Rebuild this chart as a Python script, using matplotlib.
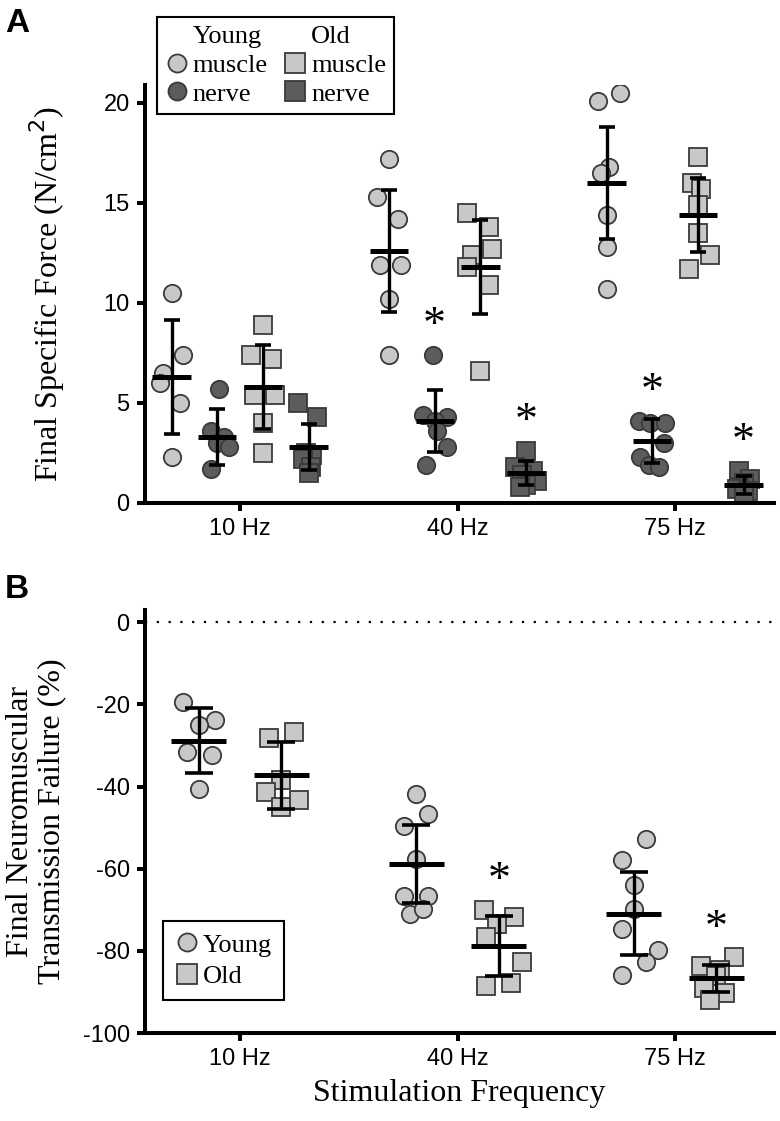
"""Specific force and neuromuscular transmission failure, young vs old."""

import matplotlib.pyplot as plt
from matplotlib.lines import Line2D

plt.rcParams['axes.unicode_minus'] = False
SERIF = ['Liberation Serif', 'DejaVu Serif']
NARROW = ['Liberation Sans Narrow', 'Liberation Sans', 'DejaVu Sans']

freqs = ['10 Hz', '40 Hz', '75 Hz']

# ---- Panel A: final specific force (N/cm2), one list per frequency
ym_vals = [[10.5, 7.4, 6.5, 6.0, 5.0, 2.3],
           [17.2, 15.3, 14.2, 11.9, 11.9, 10.2, 7.4],
           [20.1, 20.5, 16.8, 16.5, 14.4, 12.8, 10.7]]
ym_jit = [[0, .055, -.037, -.055, .037, 0],
          [0, -.055, .04, -.04, .055, 0, 0],
          [-.037, .06, .012, -.027, 0, 0, 0]]
ym_mean = [6.3, 12.6, 16.0]
ym_sd = [2.85, 3.05, 2.8]

yn_vals = [[5.7, 3.6, 3.3, 3.0, 2.8, 1.7],
           [7.4, 4.4, 4.3, 4.1, 3.6, 2.8, 1.9],
           [4.1, 4.0, 4.0, 3.0, 2.3, 1.9, 1.8]]
yn_jit = [[.01, -.03, .03, 0, .055, -.03],
          [-.01, -.055, .055, 0, .01, .055, -.04],
          [-.06, -.01, .06, .055, -.055, -.015, .03]]
yn_mean = [3.3, 4.1, 3.1]
yn_sd = [1.4, 1.55, 1.1]

om_vals = [[8.9, 7.4, 7.2, 5.4, 5.4, 4.0, 2.5],
           [14.5, 13.8, 12.7, 12.4, 11.8, 10.9, 6.6],
           [17.3, 16.0, 15.7, 14.9, 13.5, 12.4, 11.7]]
om_jit = [[0, -.055, .04, -.04, .055, 0, 0],
          [-.06, .04, .055, -.04, -.06, .04, 0],
          [0, -.025, .015, 0, 0, .055, -.04]]
om_mean = [5.8, 11.8, 14.4]
om_sd = [2.1, 2.35, 1.85]

on_vals = [[5.0, 4.3, 2.5, 2.4, 2.2, 1.8, 1.5],
           [2.6, 1.8, 1.6, 1.4, 1.1, 0.9, 0.8],
           [1.6, 1.2, 1.0, 0.8, 0.7, 0.6, 0.5]]
on_jit = [[-.05, .04, -.01, .015, -.025, .01, 0],
          [0, -.05, .03, -.02, .05, 0, -.03],
          [-.02, .03, 0, -.02, -.03, .02, 0]]
on_mean = [2.8, 1.5, 0.9]
on_sd = [1.15, 0.6, 0.45]

star_yn = [False, True, True]
star_on = [False, True, True]

# ---- Panel B: final neuromuscular transmission failure (%)
by_vals = [[-19.5, -23.7, -24.9, -31.6, -32.2, -40.7],
           [-41.9, -46.7, -49.6, -57.6, -66.6, -66.6, -70.9, -69.9],
           [-52.8, -57.8, -63.9, -69.9, -74.7, -79.8, -82.8, -85.9]]
by_jit = [[-.07, .075, 0, -.055, .06, 0],
          [0, .055, -.055, 0, -.055, .055, -.03, .03],
          [.055, -.055, 0, 0, -.055, .11, .055, -.055]]
by_mean = [-28.8, -58.8, -70.9]
by_sd = [7.9, 9.5, 10.0]

bo_vals = [[-28.1, -26.6, -38.3, -41.4, -43.3, -45.0],
           [-70.1, -71.7, -73.4, -76.5, -82.6, -88.6, -87.9],
           [-81.6, -83.8, -84.7, -86.0, -89.1, -90.3, -91.9]]
bo_jit = [[-.055, .06, 0, -.07, .08, 0],
          [-.07, .07, -.01, -.06, .105, -.06, .055],
          [.08, -.07, .015, 0, -.055, .04, -.03]]
bo_mean = [-37.2, -78.7, -86.7]
bo_sd = [8.15, 7.3, 3.3]

star_bo = [False, True, True]

LIGHT = '#c8c8c8'
DARK = '#5c5c5c'
EDGE = '#3a3a3a'


def draw_group(ax, xc, vals, jit, mean, sd, marker, face, ms, half, cap, star):
    ax.plot([xc + j for j in jit], vals, ls='none', marker=marker, ms=ms,
            mfc=face, mec=EDGE, mew=1.3, zorder=2)
    ax.errorbar(xc, mean, yerr=sd, fmt='none', ecolor='k', elinewidth=2.4,
                capsize=cap, capthick=2.6, zorder=3)
    ax.hlines(mean, xc - half, xc + half, color='k', lw=3.6, zorder=3)
    if star:
        ax.annotate('*', (xc, max(vals)), xytext=(0, 5), textcoords='offset points',
                    ha='center', va='bottom', fontsize=33, family=SERIF)


def style_axis(ax, ylim, yticks):
    for s in ('top', 'right'):
        ax.spines[s].set_visible(False)
    for s in ('left', 'bottom'):
        ax.spines[s].set_linewidth(2.9)
    ax.set_xlim(-0.437, 2.455)
    ax.set_ylim(*ylim)
    ax.set_xticks(range(3))
    ax.set_xticklabels(freqs)
    ax.set_yticks(yticks)
    ax.tick_params(length=6, width=2.9, labelsize=17, pad=5)
    for lab in ax.get_xticklabels() + ax.get_yticklabels():
        lab.set_family(NARROW)


fig = plt.figure(figsize=(7.8, 11.21), dpi=100)
axA = fig.add_axes([0.1859, 0.5513, 0.8064, 0.3729])
axB = fig.add_axes([0.1859, 0.0785, 0.8064, 0.3773])

# Panel A
for i in range(3):
    draw_group(axA, i - 0.315, ym_vals[i], ym_jit[i], ym_mean[i], ym_sd[i], 'o', LIGHT, 12.5, 0.088, 5.5, False)
    draw_group(axA, i - 0.105, yn_vals[i], yn_jit[i], yn_mean[i], yn_sd[i], 'o', DARK, 12.5, 0.088, 5.5, star_yn[i])
    draw_group(axA, i + 0.105, om_vals[i], om_jit[i], om_mean[i], om_sd[i], 's', LIGHT, 13.5, 0.088, 5.5, False)
    draw_group(axA, i + 0.315, on_vals[i], on_jit[i], on_mean[i], on_sd[i], 's', DARK, 13.5, 0.088, 5.5, star_on[i])
style_axis(axA, (0, 20.9), [0, 5, 10, 15, 20])
axA.set_ylabel('Final Specific Force (N/cm$^2$)', fontsize=23, family=SERIF, labelpad=26)

blank = Line2D([], [], ls='none')
handlesA = [blank,
            Line2D([], [], ls='none', marker='o', ms=13, mfc=LIGHT, mec=EDGE, mew=1.3),
            Line2D([], [], ls='none', marker='o', ms=13, mfc=DARK, mec=EDGE, mew=1.3),
            blank,
            Line2D([], [], ls='none', marker='s', ms=14, mfc=LIGHT, mec=EDGE, mew=1.3),
            Line2D([], [], ls='none', marker='s', ms=14, mfc=DARK, mec=EDGE, mew=1.3)]
labelsA = ['Young', 'muscle', 'nerve', 'Old', 'muscle', 'nerve']
legA = fig.legend(handlesA, labelsA, ncol=2, loc='upper left',
                  bbox_to_anchor=(0.201, 0.985), prop={'family': SERIF, 'size': 19},
                  frameon=True, fancybox=False, framealpha=1, edgecolor='k',
                  handlelength=0.9, handletextpad=0.15, labelspacing=0.2,
                  columnspacing=0.6, borderpad=0.3, borderaxespad=0)
legA.get_frame().set_linewidth(1.5)

# Panel B
for i in range(3):
    draw_group(axB, i - 0.19, by_vals[i], by_jit[i], by_mean[i], by_sd[i], 'o', LIGHT, 12.5, 0.126, 10, False)
    draw_group(axB, i + 0.19, bo_vals[i], bo_jit[i], bo_mean[i], bo_sd[i], 's', LIGHT, 13.5, 0.126, 10, star_bo[i])
axB.axhline(0, color='k', lw=1.6, ls=(0, (1, 4.3)), zorder=1)
style_axis(axB, (-100, 3), [0, -20, -40, -60, -80, -100])
axB.set_ylabel('Final Neuromuscular\nTransmission Failure (%)', fontsize=23,
               family=SERIF, labelpad=12, linespacing=1.1)
axB.set_xlabel('Stimulation Frequency', fontsize=23, family=SERIF, labelpad=6)

handlesB = [Line2D([], [], ls='none', marker='o', ms=13, mfc=LIGHT, mec=EDGE, mew=1.3),
            Line2D([], [], ls='none', marker='s', ms=14, mfc=LIGHT, mec=EDGE, mew=1.3)]
legB = axB.legend(handlesB, ['Young', 'Old'], loc='lower left',
                  bbox_to_anchor=(0.209, 0.108), bbox_transform=fig.transFigure,
                  prop={'family': SERIF, 'size': 19}, frameon=True, fancybox=False,
                  framealpha=1, edgecolor='k', handlelength=0.9, handletextpad=0.15,
                  labelspacing=0.3, borderpad=0.45, borderaxespad=0)
legB.get_frame().set_linewidth(1.5)

fig.text(0.006, 0.993, 'A', fontsize=24, fontweight='bold', family=['Liberation Sans', 'DejaVu Sans'], va='top')
fig.text(0.006, 0.488, 'B', fontsize=24, fontweight='bold', family=['Liberation Sans', 'DejaVu Sans'], va='top')

fig.savefig('out.png', dpi=100)
